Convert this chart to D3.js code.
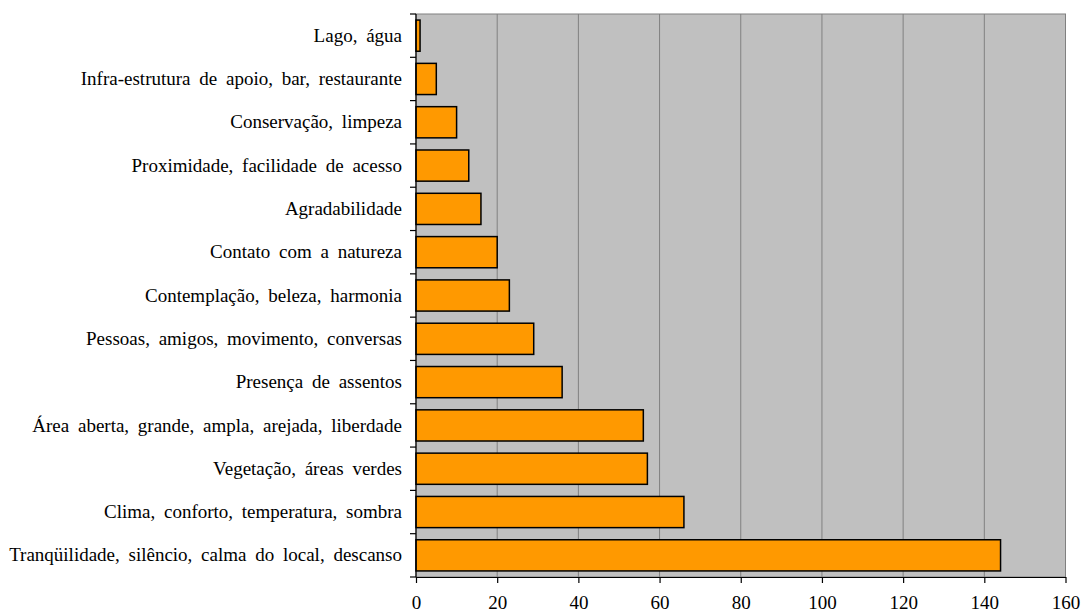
<!DOCTYPE html>
<html>
<head>
<meta charset="utf-8">
<script src="https://cdn.jsdelivr.net/npm/d3@7"></script>
<style>
  html, body { margin: 0; padding: 0; background: #fff; }
</style>
</head>
<body>
<svg id="chart" width="1081" height="614"></svg>
<script>
// Reasons given for liking the place (number of mentions)
const categories = [
  "Lago, água",
  "Infra-estrutura de apoio, bar, restaurante",
  "Conservação, limpeza",
  "Proximidade, facilidade de acesso",
  "Agradabilidade",
  "Contato com a natureza",
  "Contemplação, beleza, harmonia",
  "Pessoas, amigos, movimento, conversas",
  "Presença de assentos",
  "Área aberta, grande, ampla, arejada, liberdade",
  "Vegetação, áreas verdes",
  "Clima, conforto, temperatura, sombra",
  "Tranqüilidade, silêncio, calma do local, descanso"
];
const values = [1, 5, 10, 13, 16, 20, 23, 29, 36, 56, 57, 66, 144];
const xTicks = [0, 20, 40, 60, 80, 100, 120, 140, 160];

const FONT = "'Liberation Serif', 'Times New Roman', Times, serif";
const svg = d3.select("#chart");
const plot = { left: 416, top: 14, right: 1065.5, bottom: 577 };

const x = d3.scaleLinear().domain([0, 160]).range([plot.left, plot.right]);
const y = d3.scaleBand().domain(categories).range([plot.top, plot.bottom])
  .paddingInner(0.28).paddingOuter(0.14);

// plot background
svg.append("rect")
  .attr("x", plot.left).attr("y", plot.top)
  .attr("width", plot.right - plot.left).attr("height", plot.bottom - plot.top)
  .attr("fill", "#c0c0c0").attr("stroke", "#808080").attr("stroke-width", 1);

// vertical gridlines
svg.append("g").selectAll("line")
  .data(xTicks.slice(1, -1))
  .join("line")
  .attr("x1", d => x(d)).attr("x2", d => x(d))
  .attr("y1", plot.top).attr("y2", plot.bottom)
  .attr("stroke", "#808080").attr("stroke-width", 1);

// bars
svg.append("g").selectAll("rect")
  .data(categories)
  .join("rect")
  .attr("x", x(0))
  .attr("y", d => y(d))
  .attr("width", (d, i) => x(values[i]) - x(0))
  .attr("height", y.bandwidth())
  .attr("fill", "#ff9900")
  .attr("stroke", "#000").attr("stroke-width", 1.5);

// category axis
const yAxis = d3.axisLeft(y).tickSize(0).tickPadding(14);
const gy = svg.append("g").attr("transform", `translate(${plot.left},0)`).call(yAxis)
  .attr("font-family", FONT).attr("font-size", 19);
gy.select(".domain").remove();
gy.selectAll("text").attr("fill", "#000").attr("word-spacing", 4);

// category separators (tick marks between bands)
const sepYs = d3.range(categories.length + 1).map(i => plot.top + i * (plot.bottom - plot.top) / categories.length);
svg.append("g").selectAll("line")
  .data(sepYs)
  .join("line")
  .attr("x1", plot.left - 6).attr("x2", plot.left)
  .attr("y1", d => d).attr("y2", d => d)
  .attr("stroke", "#000").attr("stroke-width", 1.2);

svg.append("line")
  .attr("x1", plot.left).attr("x2", plot.left)
  .attr("y1", plot.top).attr("y2", plot.bottom)
  .attr("stroke", "#000").attr("stroke-width", 1.2);

// value axis
const xAxis = d3.axisBottom(x).tickValues(xTicks).tickSize(6).tickPadding(13).tickSizeOuter(0);
const gx = svg.append("g").attr("transform", `translate(0,${plot.bottom})`).call(xAxis)
  .attr("font-family", FONT).attr("font-size", 19);
gx.select(".domain").attr("stroke", "#000").attr("stroke-width", 1.2);
gx.selectAll(".tick line").attr("stroke", "#000").attr("stroke-width", 1.2);
gx.selectAll("text").attr("fill", "#000");
</script>
</body>
</html>
